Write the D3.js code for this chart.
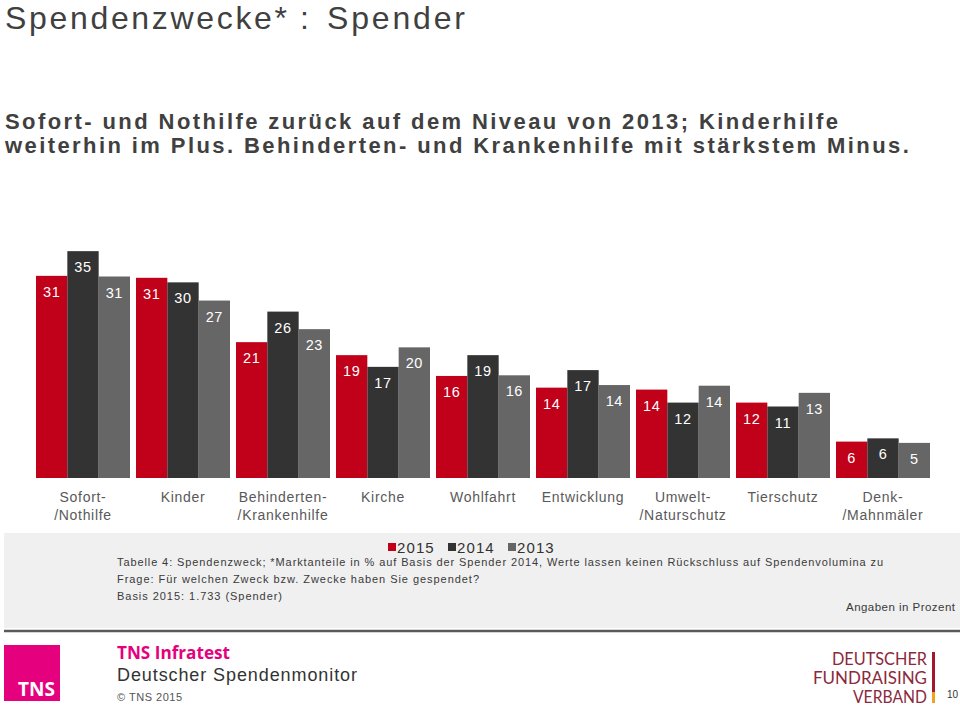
<!DOCTYPE html>
<html><head><meta charset="utf-8">
<script src="https://cdn.jsdelivr.net/npm/d3@7"></script>
<style>body{margin:0;background:#fff}svg{display:block}</style>
</head><body>
<svg id="c" width="960" height="707"></svg>
<script>
// ---- data ----
const categories = ["Sofort-\n/Nothilfe","Kinder","Behinderten-\n/Krankenhilfe","Kirche","Wohlfahrt","Entwicklung","Umwelt-\n/Naturschutz","Tierschutz","Denk-\n/Mahnmäler"];
const years = ["2015","2014","2013"];
const values2015 = [31.1, 30.8, 20.9, 18.9, 15.7, 13.9, 13.6, 11.6, 5.6];
const values2014 = [34.9, 30.1, 25.6, 17.1, 18.9, 16.6, 11.6, 11.0, 6.1];
const values2013 = [31.0, 27.3, 22.9, 20.1, 15.8, 14.3, 14.2, 13.1, 5.4];
const seriesValues = [values2015, values2014, values2013];
const subtitleLines = [
  "Sofort- und Nothilfe zurück auf dem Niveau von 2013; Kinderhilfe",
  "weiterhin im Plus. Behinderten- und Krankenhilfe mit stärkstem Minus."
];
const footnotes = [
  "Tabelle 4: Spendenzweck; *Marktanteile in % auf Basis der Spender 2014, Werte lassen keinen Rückschluss auf Spendenvolumina zu",
  "Frage: Für welchen Zweck bzw. Zwecke haben Sie gespendet?",
  "Basis 2015: 1.733 (Spender)"
];

// ---- styles ----
const colors = ["#c10019", "#333333", "#666666"];
const FONT = "'Liberation Sans', Arial, sans-serif";

const svg = d3.select("#c");
svg.append("rect").attr("width",960).attr("height",707).attr("fill","#fff");

// Title (pieces placed to match letter-spaced original)
[["Spendenzwecke*",5,282],[":",300,null],["Spender",327,138]].forEach(([t,x,w])=>{
  const el = svg.append("text").attr("x",x).attr("y",29)
    .attr("font-family",FONT).attr("font-size",32).attr("fill","#404040").text(t);
  if (w) el.attr("textLength",w).attr("lengthAdjust","spacing");
});

// Subtitle: spacing derived from line 1 width, reused for line 2
let subLS = 0;
subtitleLines.forEach((t,i)=>{
  const el = svg.append("text").attr("x",5).attr("y",i===0?129:153)
    .attr("font-family",FONT).attr("font-size",22).attr("font-weight","bold").attr("fill","#404040")
    .text(t);
  if (i===0) {
    const nat = el.node().getComputedTextLength();
    subLS = (833 - nat) / (t.length - 1);
  }
  el.attr("letter-spacing", subLS);
});

// Scales
const data = categories.map((c,i)=>({cat:c, vals: years.map((yr,j)=>({year:yr, j, v: seriesValues[j][i]}))}));
const x0 = d3.scaleBand().domain(categories).range([33,933]).paddingInner(0.06).paddingOuter(0.03);
const x1 = d3.scaleBand().domain(years).range([0, x0.bandwidth()]).padding(0);
const y = d3.scaleLinear().domain([0,36]).range([478,244]);
const color = d3.scaleOrdinal().domain(years).range(colors);

const groups = svg.append("g").selectAll("g").data(data).join("g")
  .attr("transform", d=>`translate(${x0(d.cat)},0)`);

groups.selectAll("rect").data(d=>d.vals).join("rect")
  .attr("x", d=>x1(d.year)).attr("width", x1.bandwidth())
  .attr("y", d=>y(d.v)).attr("height", d=>y(0)-y(d.v))
  .attr("fill", d=>color(d.year));

groups.selectAll("text.val").data(d=>d.vals).join("text").attr("class","val")
  .attr("x", d=>x1(d.year)+x1.bandwidth()/2).attr("y", d=>y(d.v)+21)
  .attr("text-anchor","middle").attr("font-family",FONT).attr("font-size",14.5)
  .attr("letter-spacing",0.6).attr("fill","#fff")
  .text(d=>Math.round(d.v));

// Category axis labels
const xAxis = svg.append("g");
categories.forEach(c=>{
  const cx = x0(c) + x0.bandwidth()/2;
  const t = xAxis.append("text").attr("text-anchor","middle")
    .attr("font-family",FONT).attr("font-size",14).attr("letter-spacing",0.7).attr("fill","#595959");
  c.split("\n").forEach((line,k)=>{
    t.append("tspan").attr("x",cx).attr("y",502 + k*18).text(line);
  });
});

// Grey panel
svg.append("rect").attr("x",4).attr("y",533).attr("width",956).attr("height",95).attr("fill","#f0f0f0");
svg.append("line").attr("x1",4).attr("x2",960).attr("y1",631).attr("y2",631)
  .attr("stroke","#5a5a5a").attr("stroke-width",2.5);

// Legend
const leg = svg.append("g").selectAll("g").data(years).join("g")
  .attr("transform",(d,i)=>`translate(${388 + i*60},0)`);
leg.append("rect").attr("x",0).attr("y",543).attr("width",8).attr("height",8).attr("fill",d=>color(d));
leg.append("text").attr("x",9).attr("y",553).attr("font-family",FONT).attr("font-size",15)
  .attr("letter-spacing",1.1).attr("fill","#333").text(d=>d);

// Footnotes
const fnW = [766, 362, 165];
footnotes.forEach((t,i)=>{
  svg.append("text").attr("x",117).attr("y",566 + i*17)
    .attr("font-family",FONT).attr("font-size",11).attr("fill","#3a3a3a")
    .attr("textLength",fnW[i]).attr("lengthAdjust","spacing").text(t);
});
svg.append("text").attr("x",846).attr("y",611)
  .attr("font-family",FONT).attr("font-size",11.5).attr("fill","#3a3a3a")
  .attr("textLength",109).attr("lengthAdjust","spacing").text("Angaben in Prozent");

// Footer: TNS logo
svg.append("rect").attr("x",4).attr("y",645).attr("width",56).attr("height",56).attr("fill","#e5007e");
svg.append("text").attr("x",18).attr("y",696).attr("font-family","'Open Sans', sans-serif")
  .attr("font-weight","bold").attr("font-size",19).attr("fill","#fff")
  .attr("textLength",37).attr("lengthAdjust","spacingAndGlyphs").text("TNS");
svg.append("text").attr("x",117).attr("y",659).attr("font-family","'Open Sans', sans-serif")
  .attr("font-weight","bold").attr("font-size",18).attr("fill","#e5007e")
  .attr("textLength",113).attr("lengthAdjust","spacingAndGlyphs").text("TNS Infratest");
svg.append("text").attr("x",117).attr("y",681).attr("font-family",FONT)
  .attr("font-size",18).attr("fill","#333")
  .attr("textLength",240).attr("lengthAdjust","spacing").text("Deutscher Spendenmonitor");
svg.append("text").attr("x",117).attr("y",701).attr("font-family",FONT)
  .attr("font-size",11).attr("fill","#555")
  .attr("textLength",65).attr("lengthAdjust","spacing").text("© TNS 2015");

// Footer: Fundraising Verband logo
[["DEUTSCHER",832,665,95],["FUNDRAISING",813,684,114],["VERBAND",853,703,74]].forEach(([t,x,yy,w])=>{
  svg.append("text").attr("x",x).attr("y",yy).attr("font-family","Lato, 'Open Sans', sans-serif")
    .attr("font-size",16.5).attr("fill","#8a2a3c")
    .attr("textLength",w).attr("lengthAdjust","spacingAndGlyphs").text(t);
});
svg.append("rect").attr("x",932).attr("y",652).attr("width",3).attr("height",40).attr("fill","#a3182e");
svg.append("rect").attr("x",932).attr("y",692).attr("width",3).attr("height",11).attr("fill","#f0a21c");
svg.append("text").attr("x",947).attr("y",698).attr("font-family",FONT)
  .attr("font-size",10).attr("fill","#333").text("10");
</script>
</body></html>
